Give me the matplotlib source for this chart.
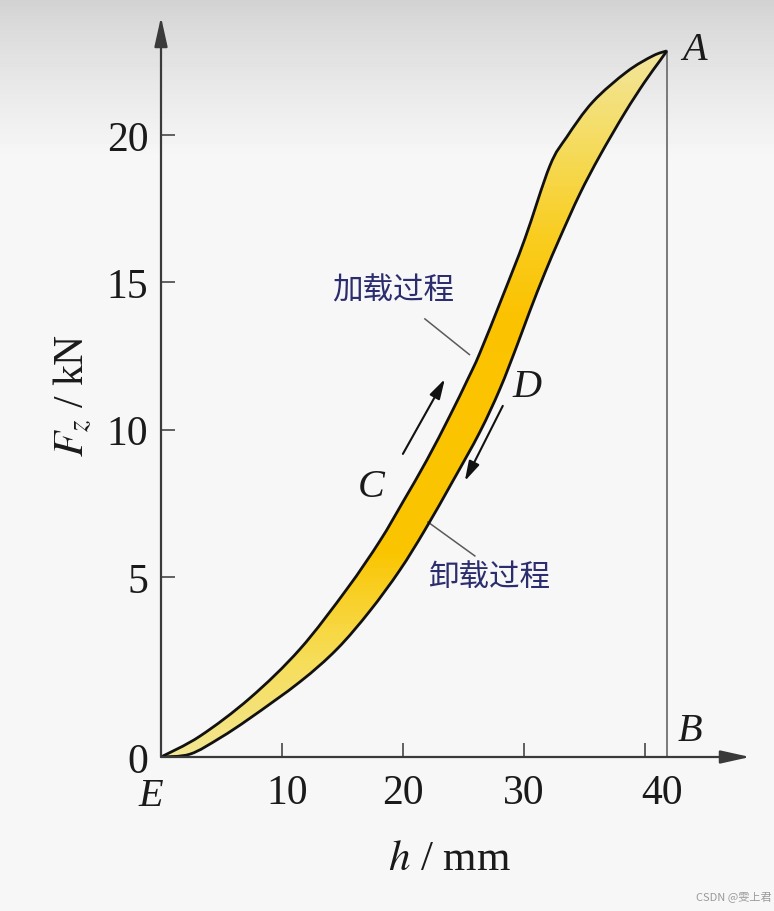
import numpy as np
import matplotlib
matplotlib.use("Agg")
import matplotlib.pyplot as plt
from matplotlib.path import Path
from matplotlib.patches import PathPatch
from matplotlib.colors import LinearSegmentedColormap
from matplotlib import transforms

plt.rcParams['font.family'] = ['Liberation Serif', 'DejaVu Serif']
plt.rcParams['mathtext.fontset'] = 'stix'

# loading curve (加载过程), h in mm, F in kN
h_load = [0, 3.22, 7.36, 11.49, 15.37, 18.10, 20.0, 21.98, 23.88, 25.37, 26.36, 28.26, 30.08, 32.15, 33.55, 35.70, 38.51, 40.66, 41.82]
F_load = [0, 0.58, 1.64, 3.00, 4.67, 6.23, 7.55, 8.97, 10.47, 11.72, 12.60, 14.54, 16.47, 18.95, 19.93, 21.12, 22.14, 22.68, 22.85]

# unloading curve (卸载过程)
h_unload = [0, 2.40, 4.88, 7.36, 11.49, 14.55, 17.27, 19.75, 21.82, 24.13, 26.36, 28.02, 29.42, 30.50, 31.74, 32.98, 34.63, 36.28, 38.35, 40.0, 41.24, 41.82]
F_unload = [0, 0.08, 0.53, 1.08, 2.09, 3.00, 4.06, 5.24, 6.60, 8.26, 9.92, 11.38, 12.84, 14.03, 15.32, 16.51, 18.00, 19.29, 20.75, 21.80, 22.51, 22.85]

x_ticks = [10, 20, 30, 40]
y_ticks = [0, 5, 10, 15, 20]

# the original drawing gives the 0-5 band more room than the others
GAP = 1.22


def fwd(F):
    F = np.asarray(F, float)
    return np.where(F < 5, F * GAP, F + 5 * (GAP - 1))


def inv(u):
    u = np.asarray(u, float)
    return np.where(u < 5 * GAP, u / GAP, u - 5 * (GAP - 1))


def smooth(xs, ys):
    # catmull-rom through the points, worked out in the drawn (scaled) space
    p = np.column_stack([np.asarray(xs, float), fwd(ys)])
    p_ext = np.vstack([p[0], p, p[-1]])
    verts = [p[0]]
    for i in range(len(p) - 1):
        p0, p1, p2, p3 = p_ext[i], p_ext[i + 1], p_ext[i + 2], p_ext[i + 3]
        verts += [p1 + (p2 - p0) / 6, p2 - (p3 - p1) / 6, p2]
    verts = np.array(verts)
    verts[:, 1] = inv(verts[:, 1])
    return verts


fig = plt.figure(figsize=(7.74, 9.12), dpi=100)

# light gray backdrop, darker at the top
bg = fig.add_axes([0, 0, 1, 1], zorder=-5)
rows = np.linspace(0, 1, 912)
shade = np.clip(0.82 + (0.965 - 0.82) * (rows / 0.17) ** 0.8, 0.82, 0.965)
bg.imshow(shade[:, None], cmap='gray', vmin=0, vmax=1, aspect='auto', extent=[0, 1, 0, 1])
bg.axis('off')

ax = fig.add_axes([161 / 774, 1 - 758 / 912, (750 - 161) / 774, (758 - 18) / 912])
ax.patch.set_alpha(0)
ax.set_yscale('function', functions=(fwd, inv))
ax.set_xlim(0, 48.7)
ax.set_ylim(0, 24.0)

# yellow band between the two curves
v_up = smooth(h_load, F_load)
v_dn = smooth(h_unload[::-1], F_unload[::-1])
band_verts = np.vstack([v_up, v_dn[1:], v_up[:1]])
band_codes = [Path.MOVETO] + [Path.CURVE4] * (len(v_up) - 1) + [Path.CURVE4] * (len(v_dn) - 1) + [Path.CLOSEPOLY]
clip = PathPatch(Path(band_verts, band_codes), facecolor='none', edgecolor='none')
ax.add_patch(clip)

cmap = LinearSegmentedColormap.from_list('band', [
    (0.0, '#f3e690'), (0.12, '#f6dc55'), (0.25, '#fac500'), (0.6, '#fbc200'),
    (0.72, '#f9cd20'), (0.85, '#f5db5c'), (1.0, '#f2e6a0')])
FF = np.linspace(0, 23, 200)
mesh = ax.pcolormesh([0, 43], FF, FF[:-1, None], cmap=cmap, vmin=0, vmax=23, shading='flat', zorder=1)
mesh.set_clip_path(clip)

codes_up = [Path.MOVETO] + [Path.CURVE4] * (len(v_up) - 1)
ax.add_patch(PathPatch(Path(v_up, codes_up), facecolor='none', edgecolor='#111111', lw=2.0, zorder=3))
v_dn2 = smooth(h_unload, F_unload)
codes_dn = [Path.MOVETO] + [Path.CURVE4] * (len(v_dn2) - 1)
ax.add_patch(PathPatch(Path(v_dn2, codes_dn), facecolor='none', edgecolor='#111111', lw=2.0, zorder=3))

# line A-B
ax.plot([h_load[-1], h_load[-1]], [0, F_load[-1]], color='#707070', lw=1.3, zorder=2)

# axes drawn as arrows
for s in ax.spines.values():
    s.set_visible(False)
arrow_kw = dict(arrowstyle='-|>,head_length=0.9,head_width=0.2', color='#3a3a3a', lw=1.6,
                mutation_scale=20, shrinkA=0, shrinkB=0)
ax.annotate('', xy=(0, 1), xytext=(0, 0), xycoords='axes fraction', arrowprops=arrow_kw, annotation_clip=False)
ax.annotate('', xy=(1, 0), xytext=(0, 0), xycoords='axes fraction', arrowprops=arrow_kw, annotation_clip=False)

ax.set_xticks(x_ticks)
ax.set_yticks(y_ticks)
ax.set_xticklabels([str(t) for t in x_ticks])
ax.set_yticklabels([str(t) for t in y_ticks])
ax.tick_params(direction='in', length=10, width=1.3, color='#555555', labelsize=30, labelcolor='#1a1a1a')
ax.tick_params(axis='x', pad=12)
ax.tick_params(axis='y', pad=9)
last = ax.xaxis.get_major_ticks()[-1].label1
last.set_transform(last.get_transform() + transforms.ScaledTranslation(0.17, 0, fig.dpi_scale_trans))
first = ax.xaxis.get_major_ticks()[0].label1
first.set_transform(first.get_transform() + transforms.ScaledTranslation(0.05, 0, fig.dpi_scale_trans))

ax.set_xlabel(r'$h$ / mm', fontsize=31, va='center', color='#1a1a1a')
ax.xaxis.set_label_coords(0.49, -0.138)
ax.set_ylabel(r'$F_z$ / kN', fontsize=30, va='center', color='#1a1a1a')
ax.yaxis.set_label_coords(-0.15, 0.49)

# point letters
lt = dict(fontsize=29, style='italic', color='#1a1a1a', ha='center', va='center')
ax.annotate('A', xy=(h_load[-1], F_load[-1]), xytext=(20, 1), textcoords='offset points', **lt)
ax.annotate('B', xy=(h_load[-1], 0), xytext=(17, 19), textcoords='offset points', **lt)
ax.annotate('E', xy=(0, 0), xytext=(-7, -28), textcoords='offset points', annotation_clip=False, **lt)
ax.text(17.4, 8.09, 'C', **lt)
ax.text(30.3, 11.48, 'D', **lt)

# direction arrows
dir_kw = dict(arrowstyle='-|>,head_length=0.6,head_width=0.17', color='#111111', lw=1.5,
              mutation_scale=20, shrinkA=0, shrinkB=0)
ax.annotate('', xy=(23.47, 11.72), xytext=(20.0, 9.18), arrowprops=dir_kw)
ax.annotate('', xy=(25.12, 8.26), xytext=(28.26, 10.81), arrowprops=dir_kw)

# leader lines and Chinese labels
ax.plot([21.82, 25.5], [13.76, 12.55], color='#5a5a5a', lw=1.1, zorder=2)
ax.plot([22.07, 25.95], [6.87, 5.72], color='#5a5a5a', lw=1.1, zorder=2)
cn = dict(fontsize=22, color='#2b2d6e', ha='center', va='center', family=['Noto Sans CJK SC', 'DejaVu Sans'])
ax.text(19.17, 14.75, '加载过程', **cn)
ax.text(27.1, 5.04, '卸载过程', **cn)

fig.text(0.997, 1 - 897 / 912, 'CSDN @雯上君', fontsize=8, color='#9a9a9a', ha='right', va='center',
         family=['Noto Sans CJK SC', 'DejaVu Sans'])

fig.savefig('out.png', dpi=100)
